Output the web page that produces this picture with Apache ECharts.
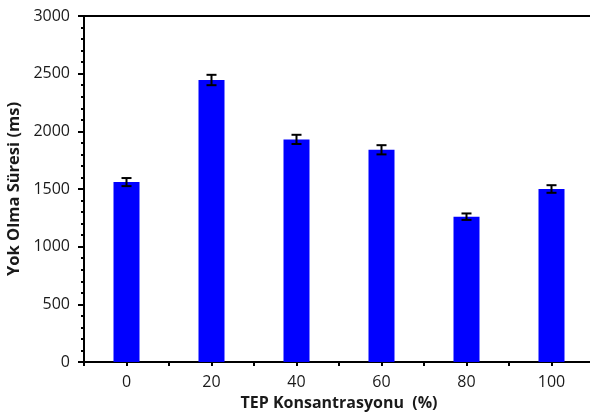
<!DOCTYPE html>
<html>
<head>
<meta charset="utf-8">
<script src="https://cdn.jsdelivr.net/npm/echarts@6/dist/echarts.min.js"></script>
<style>
  html, body { margin: 0; padding: 0; background: #ffffff; }
  #chart { width: 590px; height: 414px; }
</style>
</head>
<body>
<div id="chart"></div>
<script>
// TEP concentration (%) and extinction time (ms) with its error
const concentrations = [0, 20, 40, 60, 80, 100];
const extinctionTime = [1560, 2445, 1930, 1840, 1260, 1500];
const errorValues = [35, 45, 40, 40, 28, 33];
const yTickValues = [0, 500, 1000, 1500, 2000, 2500, 3000];

const textColor = '#1a1a1a';
const fontFamily = '"Open Sans", "DejaVu Sans", sans-serif';

const barData = concentrations.map((c, i) => [c, extinctionTime[i]]);
const errorData = concentrations.map((c, i) => [c, extinctionTime[i] - errorValues[i], extinctionTime[i] + errorValues[i]]);

const chart = echarts.init(document.getElementById('chart'), null, { renderer: 'canvas' });

chart.setOption({
  animation: false,
  backgroundColor: '#ffffff',
  grid: { left: 84, right: -4, top: 16, bottom: 52, containLabel: false, outerBoundsMode: 'none' },
  xAxis: [
    {
      type: 'value',
      min: -10,
      max: 110,
      interval: 10,
      name: 'TEP Konsantrasyonu  (%)',
      nameLocation: 'middle',
      nameGap: 33,
      nameTextStyle: { color: textColor, fontFamily, fontWeight: 'bold', fontSize: 16 },
      axisLine: { show: true, onZero: false, lineStyle: { color: '#000', width: 2 } },
      axisTick: { show: true, inside: false, length: 4, lineStyle: { color: '#000', width: 2 } },
      axisLabel: {
        color: textColor, fontFamily, fontSize: 16, margin: 12,
        formatter: v => (v % 20 === 0 && v >= 0 && v <= 100) ? String(v) : ''
      },
      splitLine: { show: false }
    },
    {
      type: 'value',
      position: 'top',
      min: -10,
      max: 110,
      axisLine: { show: true, onZero: false, lineStyle: { color: '#000', width: 2 } },
      axisTick: { show: false },
      axisLabel: { show: false },
      splitLine: { show: false }
    }
  ],
  yAxis: {
    type: 'value',
    min: 0,
    max: 3000,
    interval: 500,
    name: 'Yok Olma Süresi (ms)',
    nameLocation: 'middle',
    nameGap: 60,
    nameTextStyle: { color: textColor, fontFamily, fontWeight: 'bold', fontSize: 16.5 },
    axisLine: { show: true, onZero: false, lineStyle: { color: '#000', width: 2 } },
    axisTick: { show: true, inside: false, length: 6, lineStyle: { color: '#000', width: 2 } },
    minorTick: { show: true, splitNumber: 5, length: 3, lineStyle: { color: '#000', width: 2 } },
    axisLabel: {
      color: textColor, fontFamily, fontSize: 16, margin: 14,
      formatter: v => yTickValues.includes(v) ? String(v) : ''
    },
    splitLine: { show: false }
  },
  series: [
    {
      type: 'bar',
      xAxisIndex: 0,
      barWidth: 26,
      data: barData,
      itemStyle: { color: '#0000ff' }
    },
    {
      type: 'custom',
      xAxisIndex: 0,
      data: errorData,
      z: 10,
      renderItem: (params, api) => {
        const x = api.value(0);
        const lo = api.coord([x, api.value(1)]);
        const hi = api.coord([x, api.value(2)]);
        const cap = 5;
        const style = { stroke: '#000', lineWidth: 2 };
        return {
          type: 'group',
          children: [
            { type: 'line', shape: { x1: hi[0], y1: hi[1], x2: lo[0], y2: lo[1] }, style },
            { type: 'line', shape: { x1: hi[0] - cap, y1: hi[1], x2: hi[0] + cap, y2: hi[1] }, style },
            { type: 'line', shape: { x1: lo[0] - cap, y1: lo[1], x2: lo[0] + cap, y2: lo[1] }, style }
          ]
        };
      }
    }
  ]
});
</script>
</body>
</html>
